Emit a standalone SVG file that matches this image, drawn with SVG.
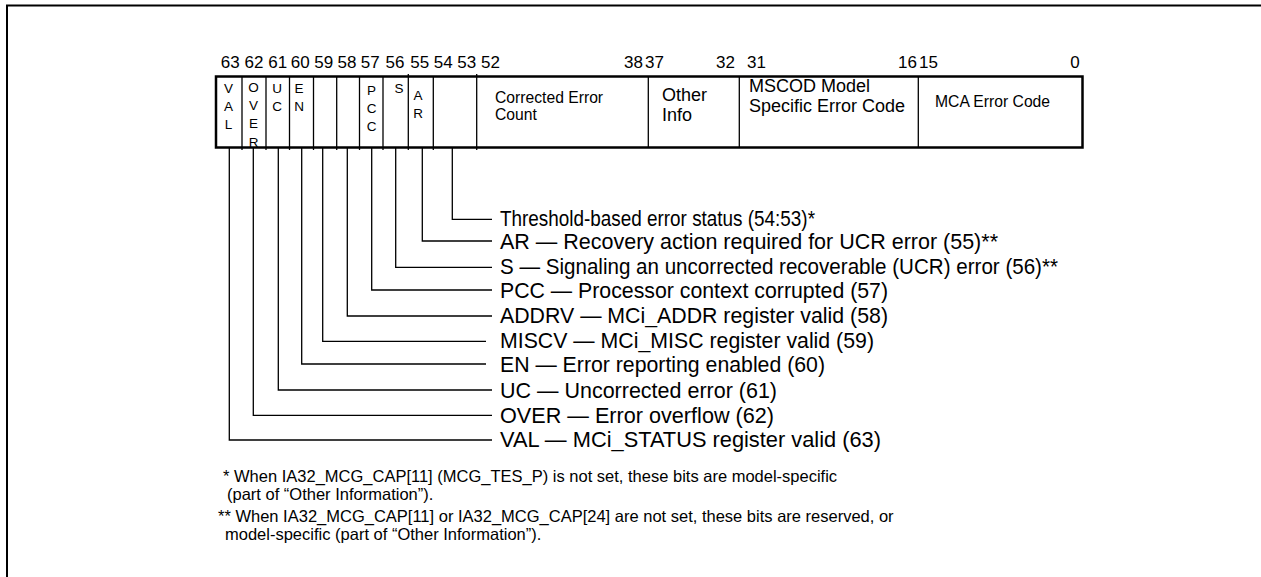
<svg xmlns="http://www.w3.org/2000/svg" width="1261" height="577" viewBox="0 0 1261 577">
<style>
text{font-family:"Liberation Sans",Arial,sans-serif;fill:#000}
.num{font-size:17px}
.cell{font-size:13.5px;text-anchor:middle}
.f15{font-size:15.7px}
.f18{font-size:18px}
.lbl{font-size:21.2px}
.foot{font-size:16.5px}
.div{stroke:#000;stroke-width:1.3;fill:none}
.con{stroke:#000;stroke-width:1.3;fill:none}
</style>
<rect width="1261" height="577" fill="#fff"/>
<path d="M7 577V5.5H1261" fill="none" stroke="#000" stroke-width="2"/>
<g id="bitnumbers" class="num">
<text x="230.3" y="68" text-anchor="middle">63</text>
<text x="254" y="68" text-anchor="middle">62</text>
<text x="277.8" y="68" text-anchor="middle">61</text>
<text x="300.3" y="68" text-anchor="middle">60</text>
<text x="323.8" y="68" text-anchor="middle">59</text>
<text x="347" y="68" text-anchor="middle">58</text>
<text x="370.3" y="68" text-anchor="middle">57</text>
<text x="395" y="68" text-anchor="middle">56</text>
<text x="419.7" y="68" text-anchor="middle">55</text>
<text x="443.3" y="68" text-anchor="middle">54</text>
<text x="466.7" y="68" text-anchor="middle">53</text>
<text x="481" y="68">52</text>
<text x="643" y="68" text-anchor="end">38</text>
<text x="645" y="68">37</text>
<text x="735" y="68" text-anchor="end">32</text>
<text x="747" y="68">31</text>
<text x="917" y="68" text-anchor="end">16</text>
<text x="919" y="68">15</text>
<text x="1075" y="68" text-anchor="middle">0</text>
</g>
<g id="register">
<rect x="216" y="76.5" width="866.5" height="71" fill="none" stroke="#000" stroke-width="2.5"/>
<g id="f-val"><text class="cell"><tspan x="228.5" y="93">V</tspan><tspan x="228.5" y="111">A</tspan><tspan x="228.5" y="129">L</tspan></text></g>
<g id="f-over"><line class="div" x1="242" y1="77" x2="242" y2="150"/><text class="cell"><tspan x="253.5" y="92">O</tspan><tspan x="253.5" y="110">V</tspan><tspan x="253.5" y="128">E</tspan><tspan x="253.5" y="146.5">R</tspan></text></g>
<g id="f-uc"><line class="div" x1="266" y1="77" x2="266" y2="150"/><text class="cell"><tspan x="277" y="93">U</tspan><tspan x="277" y="111">C</tspan></text></g>
<g id="f-en"><line class="div" x1="289.5" y1="77" x2="289.5" y2="150"/><text class="cell"><tspan x="299" y="93">E</tspan><tspan x="299" y="111">N</tspan></text></g>
<g id="f-miscv"><line class="div" x1="313.5" y1="77" x2="313.5" y2="150"/></g>
<g id="f-addrv"><line class="div" x1="336.7" y1="77" x2="336.7" y2="150"/></g>
<g id="f-pcc"><line class="div" x1="359.5" y1="77" x2="359.5" y2="150"/><text class="cell"><tspan x="371.5" y="95">P</tspan><tspan x="371.5" y="113">C</tspan><tspan x="371.5" y="131">C</tspan></text></g>
<g id="f-s"><line class="div" x1="383" y1="77" x2="383" y2="150"/><text class="cell" x="399" y="93">S</text></g>
<g id="f-ar"><line class="div" x1="408.3" y1="74" x2="408.3" y2="150"/><text class="cell"><tspan x="418" y="100">A</tspan><tspan x="418" y="118">R</tspan></text></g>
<g id="f-threshold"><line class="div" x1="433.3" y1="77" x2="433.3" y2="150"/></g>
<g id="f-cec"><line class="div" x1="476.7" y1="74" x2="476.7" y2="150"/><text class="f15"><tspan x="495" y="102.5">Corrected Error</tspan><tspan x="495" y="119.5">Count</tspan></text></g>
<g id="f-other"><line class="div" x1="648.3" y1="77" x2="648.3" y2="148"/><text class="f18"><tspan x="662" y="101">Other</tspan><tspan x="662" y="121">Info</tspan></text></g>
<g id="f-mscod"><line class="div" x1="739.3" y1="77" x2="739.3" y2="148"/><text class="f18"><tspan x="749" y="92">MSCOD Model</tspan><tspan x="749" y="112">Specific Error Code</tspan></text></g>
<g id="f-mca"><line class="div" x1="918.3" y1="77" x2="918.3" y2="148"/><text class="f15" x="935" y="107">MCA Error Code</text></g>
</g>
<g id="connectors">
<path class="con" d="M452.3 148V219.3H492"/>
<path class="con" d="M422.3 148V241H492"/>
<path class="con" d="M395.7 148V267.3H492"/>
<path class="con" d="M371.7 148V290H492"/>
<path class="con" d="M347.3 148V316H492"/>
<path class="con" d="M322.7 148V341.3H486"/>
<path class="con" d="M301.7 148V364H486"/>
<path class="con" d="M278.3 148V390H492"/>
<path class="con" d="M253.3 148V415.3H492"/>
<path class="con" d="M229.3 148V440H492"/>
</g>
<g id="labels" class="lbl">
<text x="500" y="225.5" textLength="315" lengthAdjust="spacingAndGlyphs">Threshold-based error status (54:53)*</text>
<text x="500" y="248.5" textLength="498" lengthAdjust="spacingAndGlyphs">AR — Recovery action required for UCR error (55)**</text>
<text x="500" y="273.5" textLength="558" lengthAdjust="spacingAndGlyphs">S — Signaling an uncorrected recoverable (UCR) error (56)**</text>
<text x="500" y="297.5" textLength="388" lengthAdjust="spacingAndGlyphs">PCC — Processor context corrupted (57)</text>
<text x="500" y="323" textLength="388" lengthAdjust="spacingAndGlyphs">ADDRV — MCi_ADDR register valid (58)</text>
<text x="500" y="348" textLength="374" lengthAdjust="spacingAndGlyphs">MISCV — MCi_MISC register valid (59)</text>
<text x="500" y="371.5" textLength="325" lengthAdjust="spacingAndGlyphs">EN — Error reporting enabled (60)</text>
<text x="500" y="397.5" textLength="277" lengthAdjust="spacingAndGlyphs">UC — Uncorrected error (61)</text>
<text x="500" y="422.5" textLength="274" lengthAdjust="spacingAndGlyphs">OVER — Error overflow (62)</text>
<text x="500" y="447" textLength="381" lengthAdjust="spacingAndGlyphs">VAL — MCi_STATUS register valid (63)</text>
</g>
<g id="footnotes" class="foot">
<text x="223" y="482">* When IA32_MCG_CAP[11] (MCG_TES_P) is not set, these bits are model-specific</text>
<text x="227" y="500">(part of “Other Information”).</text>
<text x="218" y="522">** When IA32_MCG_CAP[11] or IA32_MCG_CAP[24] are not set, these bits are reserved, or</text>
<text x="225" y="540">model-specific (part of “Other Information”).</text>
</g>
</svg>
